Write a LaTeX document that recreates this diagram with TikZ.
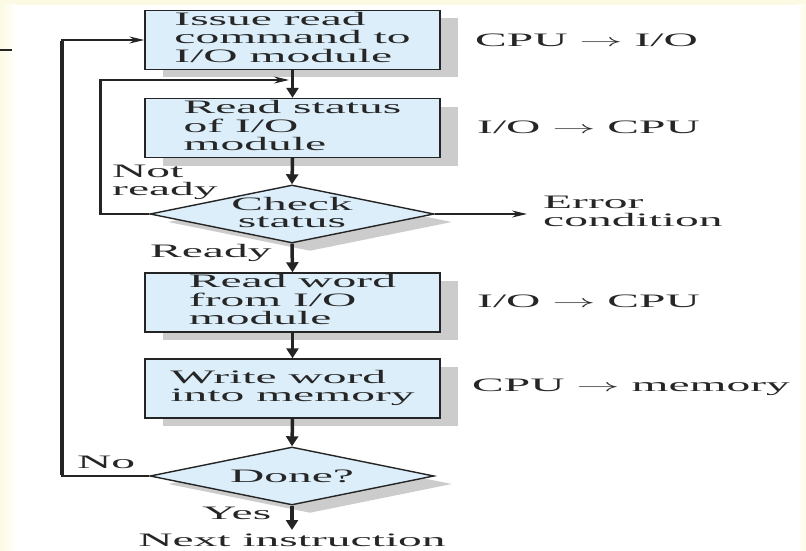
\documentclass[tikz,border=0pt]{standalone}
\usepackage{fontspec}
\setmainfont{Liberation Serif}
\usepackage{graphicx}
\usetikzlibrary{shapes.geometric,shadows,arrows.meta}

\definecolor{boxfill}{HTML}{DCEEF9}
\definecolor{linec}{gray}{0.14}
\definecolor{shade}{gray}{0.80}
\definecolor{cream}{HTML}{FCFAE2}

% wide lettering of the flowchart
\newcommand\wide[1]{\scalebox{2.5}[1]{#1}}
\newcommand\lines[1]{\wide{\begin{tabular}{@{}l@{}}#1\end{tabular}}}
\newcommand\clines[1]{\wide{\begin{tabular}{@{}c@{}}#1\end{tabular}}}
\newcommand\boxtext[1]{\raisebox{-2.5pt}{\lines{#1}}}

\begin{document}
\begin{tikzpicture}[x=1pt, y=-1pt,
  font=\fontsize{19}{17.5}\selectfont, text=black!85,
  boxshadow/.style={general shadow={shadow xshift=18pt, shadow yshift=-8pt, fill=shade}},
  stepbox/.style={rectangle, draw=linec, line width=1.4pt, fill=boxfill,
    minimum width=295pt, minimum height=59pt, inner sep=0pt, boxshadow},
  decide/.style={diamond, draw=linec, line width=1.4pt, fill=boxfill,
    minimum width=284pt, minimum height=58pt, inner sep=0pt, boxshadow},
  vflow/.style={draw=linec, line width=3.5pt, -{Triangle[length=10pt, width=12pt]}},
  hflow/.style={draw=linec, line width=1.6pt, -{Stealth[length=15pt, width=7pt]}},
  lbl/.style={anchor=west, inner sep=0pt}]

  % page background
  \useasboundingbox (0,0) rectangle (806,551);
  \fill[white] (0,0) rectangle (806,551);
  \fill[cream] (0,0) rectangle (806,5);
  \shade[left color=cream, right color=white] (0,5) rectangle (16,551);
  \shade[left color=white, right color=cream] (798,5) rectangle (806,551);
  \draw[linec, line width=2pt] (0,50) -- (12,50);

  % steps and decisions
  \node[stepbox] (b1) at (292.5,40)  {\boxtext{Issue read\\command to\\I/O module}};
  \node[stepbox] (b2) at (292.5,128) {\boxtext{Read status\\of I/O\\module}};
  \node[decide]  (d1) at (292,214) {};
  \node at ([yshift=-1pt]d1.center) {\clines{Check\\status}};
  \node[stepbox] (b3) at (292.5,302.5) {\boxtext{Read word\\from I/O\\module}};
  \node[stepbox] (b4) at (292.5,388.5) {\boxtext{Write word\\into memory}};
  \node[decide]  (d2) at (292,476) {};
  \node at (d2.center) {\wide{Done?}};

  % data-flow direction of each step
  \node[lbl] (s1) at (475,40)  {\wide{CPU $\rightarrow$ I/O}};
  \node[lbl] (s2) at (477,127) {\wide{I/O $\rightarrow$ CPU}};
  \node[lbl] (s3) at (477,301) {\wide{I/O $\rightarrow$ CPU}};
  \node[lbl] (s4) at (472,387) {\wide{CPU $\rightarrow$ memory}};

  % main flow
  \draw[vflow] (b1.south) -- (b2.north);
  \draw[vflow] (b2.south) -- (d1.north);
  \draw[vflow] (d1.south) -- (b3.north);
  \draw[vflow] (b3.south) -- (b4.north);
  \draw[vflow] (b4.south) -- (d2.north);
  \coordinate (nxt) at (292,530);
  \draw[vflow] (d2.south) -- (nxt);

  % error exit
  \coordinate (err) at (527,214);
  \draw[hflow] (d1.east) -- (err);
  \node[lbl] (e1) at (543,214) {\lines{Error\\condition}};

  % "not ready" loop back to the status read
  \coordinate (r1) at (100,214);
  \coordinate (r2) at (100,80);
  \coordinate (j1) at (289,80);
  \draw[hflow] (d1.west) -- (r1) -- (r2) -- (j1);
  \draw[linec, line width=3pt] ([yshift=0.8pt]r1) -- ([yshift=-0.8pt]r2);

  % "no" loop back to the read command
  \coordinate (q1) at (62,476);
  \coordinate (q2) at (62,40);
  \draw[hflow] (d2.west) -- (q1) -- (q2) -- (b1.west);
  \draw[linec, line width=4.5pt] ([yshift=0.8pt]q1) -- ([yshift=-0.8pt]q2);

  % branch labels
  \node[lbl] (l1) at (112,183) {\lines{Not\\ready}};
  \node[lbl] (l2) at (150,253) {\wide{Ready}};
  \node[lbl] (l3) at (77,462)  {\wide{No}};
  \node[lbl] (l4) at (202,513) {\wide{Yes}};
  \node (l5) at (292,540) {\wide{Next instruction}};
\end{tikzpicture}
\end{document}
